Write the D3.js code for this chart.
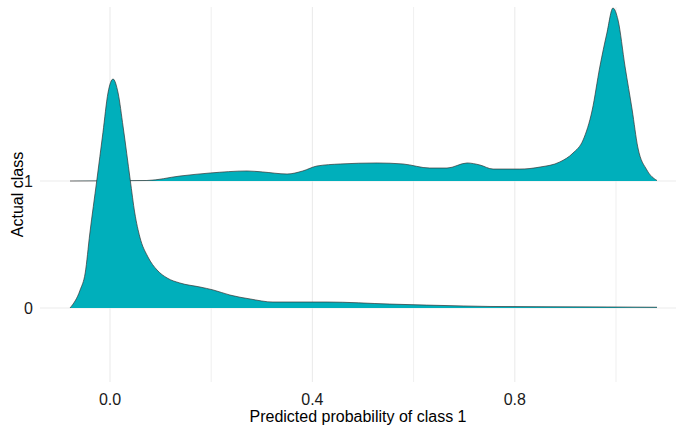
<!DOCTYPE html>
<html>
<head>
<meta charset="utf-8">
<script src="https://cdn.jsdelivr.net/npm/d3@7"></script>
<style>
  html, body { margin: 0; padding: 0; background: #ffffff; }
  svg { display: block; font-family: "Liberation Sans", Arial, sans-serif; }
</style>
</head>
<body>
<svg id="chart" width="680" height="430"></svg>
<script>
// ---- data ----
const classes = ["0", "1"];
const xTicks = [0.0, 0.4, 0.8];
const xMinor = [0.2, 0.6, 1.0];
const xTickLabels = ["0.0", "0.4", "0.8"];

// class 0 ridge: x positions and scaled density heights (in row units)
const x0 = [-0.079, -0.059, -0.049, -0.040, -0.026, -0.014, -0.004, 0.006, 0.016, 0.026, 0.040, 0.049, 0.059, 0.075, 0.093, 0.113, 0.138, 0.178, 0.204, 0.237, 0.277, 0.322, 0.429, 0.553, 0.698, 0.751, 0.992, 1.081];
const d0 = [0.000, 0.142, 0.276, 0.583, 1.008, 1.380, 1.693, 1.803, 1.693, 1.425, 1.008, 0.748, 0.559, 0.402, 0.299, 0.236, 0.197, 0.165, 0.142, 0.102, 0.071, 0.047, 0.047, 0.031, 0.016, 0.012, 0.008, 0.006];

// class 1 ridge
const x1 = [-0.079, 0.073, 0.138, 0.198, 0.271, 0.302, 0.350, 0.381, 0.409, 0.455, 0.528, 0.579, 0.632, 0.666, 0.706, 0.731, 0.757, 0.810, 0.850, 0.889, 0.915, 0.935, 0.953, 0.968, 0.982, 0.994, 1.004, 1.018, 1.032, 1.043, 1.061, 1.081];
const d1 = [0.000, 0.004, 0.039, 0.063, 0.079, 0.071, 0.055, 0.079, 0.118, 0.134, 0.142, 0.134, 0.102, 0.102, 0.142, 0.126, 0.094, 0.094, 0.110, 0.150, 0.220, 0.323, 0.559, 0.898, 1.165, 1.362, 1.268, 0.898, 0.559, 0.268, 0.087, 0.004];

const ridges = [
  { cls: 1, xs: x1, ds: d1 },
  { cls: 0, xs: x0, ds: d0 }
];

// ---- layout ----
const svg = d3.select("#chart");
const panel = { left: 40, right: 676, top: 7, bottom: 382 };

const x = d3.scaleLinear().domain([0, 1]).range([110, 616]);
const y = d3.scaleLinear().domain([0, 1]).range([308, 181]);

// gridlines
const grid = svg.append("g");
xMinor.forEach(v => {
  grid.append("line")
    .attr("x1", x(v)).attr("x2", x(v))
    .attr("y1", panel.top).attr("y2", panel.bottom)
    .attr("stroke", "#ebebeb").attr("stroke-width", 0.8);
});
xTicks.forEach(v => {
  grid.append("line")
    .attr("x1", x(v)).attr("x2", x(v))
    .attr("y1", panel.top).attr("y2", panel.bottom)
    .attr("stroke", "#ebebeb").attr("stroke-width", 1.1);
});
classes.forEach((c, i) => {
  grid.append("line")
    .attr("x1", panel.left).attr("x2", panel.right)
    .attr("y1", y(i)).attr("y2", y(i))
    .attr("stroke", "#ebebeb").attr("stroke-width", 1.1);
});

// ridges
const curve = d3.curveMonotoneX;
ridges.forEach(r => {
  const pts = r.xs.map((v, i) => [v, r.ds[i]]);
  const area = d3.area()
    .x(d => x(d[0]))
    .y0(y(r.cls))
    .y1(d => y(r.cls + d[1]))
    .curve(curve);
  const line = d3.line()
    .x(d => x(d[0]))
    .y(d => y(r.cls + d[1]))
    .curve(curve);
  svg.append("path").datum(pts)
    .attr("d", area)
    .attr("fill", "#00AFBB");
  svg.append("path").datum(pts)
    .attr("d", line)
    .attr("fill", "none")
    .attr("stroke", "#333333")
    .attr("stroke-width", 0.7);
});

// x tick labels
xTicks.forEach((v, i) => {
  svg.append("text")
    .attr("x", x(v)).attr("y", 405)
    .attr("text-anchor", "middle")
    .attr("font-size", 16)
    .attr("fill", "#1a1a1a")
    .text(xTickLabels[i]);
});

// y tick labels
classes.forEach((c, i) => {
  svg.append("text")
    .attr("x", 33).attr("y", y(i))
    .attr("dy", "0.36em")
    .attr("text-anchor", "end")
    .attr("font-size", 16)
    .attr("fill", "#1a1a1a")
    .text(c);
});

// axis titles
svg.append("text")
  .attr("x", (panel.left + panel.right) / 2)
  .attr("y", 422)
  .attr("text-anchor", "middle")
  .attr("font-size", 16)
  .attr("fill", "#000")
  .text("Predicted probability of class 1");

svg.append("text")
  .attr("transform", `translate(23, ${(panel.top + panel.bottom) / 2}) rotate(-90)`)
  .attr("text-anchor", "middle")
  .attr("font-size", 16)
  .attr("fill", "#000")
  .text("Actual class");
</script>
</body>
</html>
